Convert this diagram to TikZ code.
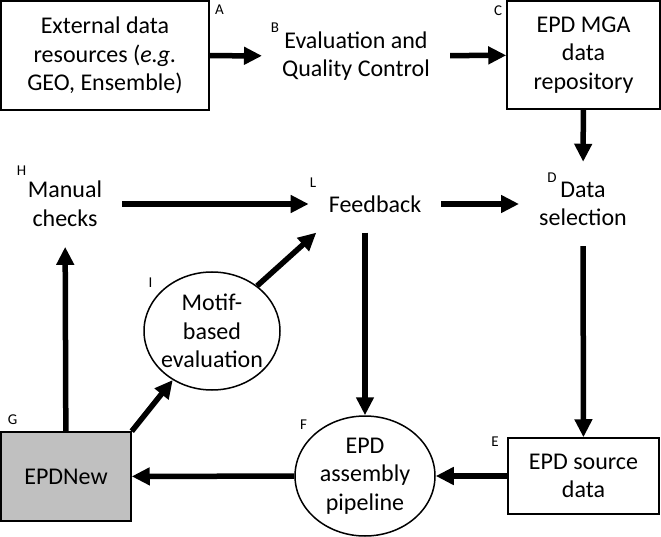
\documentclass[tikz,border=0pt]{standalone}
\usepackage{fontspec}
\setmainfont{Carlito}
\definecolor{BoxGrey}{RGB}{192, 192, 192}
\usetikzlibrary{arrows.meta, positioning, shapes}

\begin{document}
\begin{tikzpicture}[
    x=1pt, y=-1pt,
    box/.style={rectangle, draw=black, line width=1.5pt, inner sep=0pt,
                align=center, font=\fontsize{24}{28.5}\selectfont},
    loose/.style={rectangle, inner sep=20pt, align=center, font=\fontsize{24}{28.5}\selectfont},
    oval/.style={ellipse, draw=black, line width=1.5pt, inner sep=0pt,
                 align=center, font=\fontsize{24}{28.5}\selectfont},
    letter/.style={inner sep=0pt, font=\fontsize{15}{15}\selectfont},
    arrow/.style={-{Triangle[length=18pt, width=17pt]}, line width=5.5pt}
]
    \useasboundingbox (0,0) rectangle (661,537);

    \node[box, minimum width=208pt, minimum height=109pt] (ext) at (105,55.5) {External data\\resources (\textit{e.g.}\\GEO, Ensemble)};
    \node[loose] (qc) at (356,56) {Evaluation and\\Quality Control};
    \node[box, minimum width=153pt, minimum height=108pt] (repo) at (583.5,55) {EPD MGA\\data\\repository};
    \node[loose] (select) at (583,204) {Data\\selection};
    \node[box, minimum width=151pt, minimum height=76pt] (source) at (583.5,476) {EPD source\\data};
    \node[oval, minimum width=140pt, minimum height=120pt] (pipeline) at (365,476) {EPD\\assembly\\pipeline};
    \node[box, fill=BoxGrey, minimum width=130pt, minimum height=89pt] (epdnew) at (66,476.5) {EPDNew};
    \node[loose] (manual) at (65,204) {Manual\\checks};
    \node[oval, inner xsep=-4pt, minimum width=136pt, minimum height=118pt] (motif) at (212,331) {Motif-\\based\\evaluation};
    \node[loose] (feedback) at (375,204) {Feedback};

    \node[letter] (lA) at (219.5,9.5) {A};
    \node[letter] (lB) at (275,28) {B};
    \node[letter] (lC) at (498,11) {C};
    \node[letter] (lD) at (552,178) {D};
    \node[letter] (lE) at (495,442) {E};
    \node[letter] (lF) at (303.5,425) {F};
    \node[letter] (lG) at (12.5,420) {G};
    \node[letter] (lH) at (21.5,171) {H};
    \node[letter] (lI) at (150.5,283) {I};
    \node[letter] (lL) at (313,183) {L};

    \draw[arrow] (ext) -- (qc);
    \draw[arrow] (qc) -- (repo);
    \draw[arrow] (repo) -- (select);
    \draw[arrow] (select) -- (source);
    \draw[arrow] (source) -- (pipeline);
    \draw[arrow] (pipeline) -- (epdnew);
    \draw[arrow] (epdnew) -- (manual);
    \draw[arrow] (epdnew.north east) -- (motif);
    \draw[arrow] (motif.45) -- (feedback.206);
    \draw[arrow] (manual) -- (feedback);
    \draw[arrow] (feedback) -- (select);
    \draw[arrow] (feedback.south -| pipeline.north) -- (pipeline.north);
\end{tikzpicture}
\end{document}
